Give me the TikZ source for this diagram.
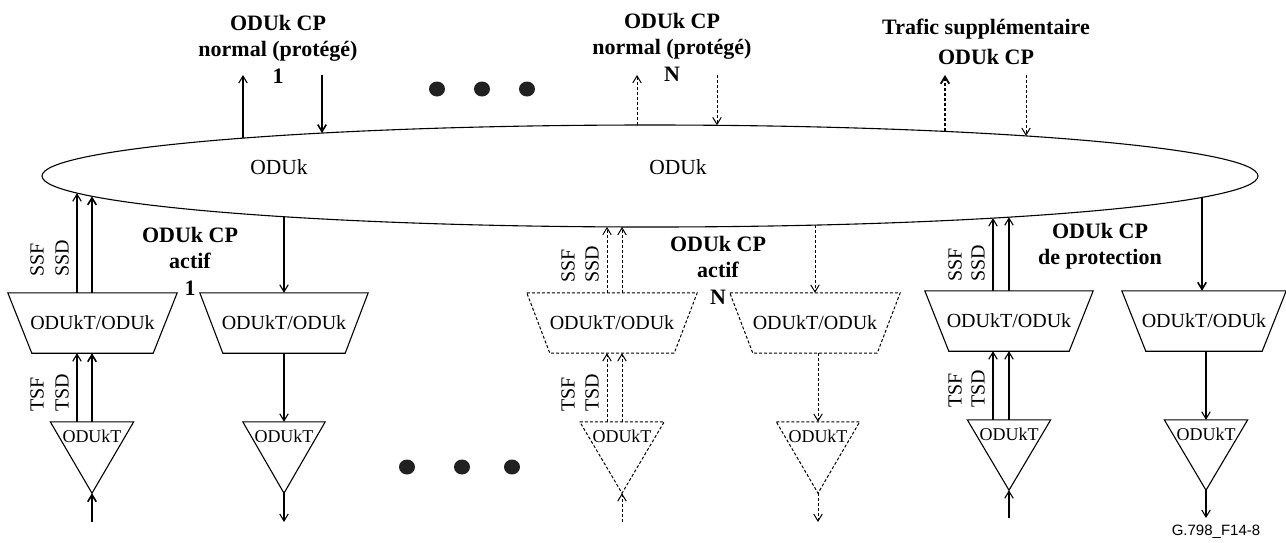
\documentclass[tikz,border=0pt]{standalone}
\usepackage{fontspec}
\setmainfont{Liberation Serif}
\newfontfamily\sansf{Liberation Sans}
\usetikzlibrary{arrows.meta,shapes.geometric,calc}
\newcommand\trapez[3][]{\draw[ln,#1] (#2.north west) -- (#2.north east) -- ([xshift=-#3pt]#2.south east) -- ([xshift=#3pt]#2.south west) -- cycle;}
\newcommand\trian[2][]{\draw[ln,#1] (#2.north west) -- (#2.north east) -- (#2.south) -- cycle;}
\begin{document}
\begin{tikzpicture}[x=1pt,y=-1pt,
  ln/.style={line width=1.1pt},
  arr/.style={ln,-{Straight Barb[length=7pt,width=8.5pt]}},
  thk/.style={line width=1.6pt},
  dsh/.style={line width=1pt,dash pattern=on 3pt off 2pt},
  lbl/.style={font=\fontsize{22}{26.5}\selectfont\bfseries, align=center, inner sep=0pt},
  box/.style={minimum width=168pt, minimum height=60pt, inner sep=0pt, font=\fontsize{20}{24}\selectfont},
  tri/.style={minimum width=83pt, minimum height=71pt, inner sep=0pt},
  tritext/.style={anchor=north, inner sep=0pt, yshift=-8pt, font=\fontsize{18}{20}\selectfont},
  side/.style={rotate=90, anchor=west, inner sep=0pt, font=\fontsize{20}{24}\selectfont},
  dot/.style={ellipse, fill=black!87, minimum width=16pt, minimum height=15pt, inner sep=0pt},
  etext/.style={font=\fontsize{21.5}{24}\selectfont},
]
\useasboundingbox (0,0) rectangle (1286,542);

% ellipse
\node[draw, ellipse, ln, minimum width=1216pt, minimum height=102pt, inner sep=0pt] (E) at (650,176) {};
\node[etext] (E1) at (279,167) {ODUk};
\node[etext] (E2) at (678,167) {ODUk};

% points on the ellipse border
\coordinate (ea) at (243,138.1);
\coordinate (eb) at (322,133.1);
\coordinate (ec) at (637,125.2);
\coordinate (ed) at (717,125.3);
\coordinate (ee) at (945,131.4);
\coordinate (ef) at (1026,135.9);
\coordinate (g1a) at (77,193.2);
\coordinate (g1b) at (92,196.3);
\coordinate (g2) at (284,216.7);
\coordinate (g3a) at (607,226.9);
\coordinate (g3b) at (622,227);
\coordinate (g4) at (815,225.1);
\coordinate (g5a) at (993,218.1);
\coordinate (g5b) at (1009,217.2);
\coordinate (g6) at (1202,197.4);

% top connectors
\coordinate (ta) at (243,75);
\coordinate (tb) at (322,75);
\coordinate (tc) at (637,75);
\coordinate (td) at (717,75);
\coordinate (te) at (945,75);
\coordinate (tf) at (1026,75);
\draw[arr] (ea) -- (ta);
\draw[arr,thk] (tb) -- (eb);
\draw[arr,dsh] (ec) -- (tc);
\draw[arr,dsh] (td) -- (ed);
\draw[arr,dsh,line width=1.8pt] (ee) -- (te);
\draw[arr,dsh] (tf) -- (ef);

% top labels
\node[lbl] (L1) at (278,49) {ODUk CP\\normal (protégé)\\1};
\node[lbl] (LN) at (672,47) {ODUk CP\\normal (protégé)\\N};
\node[lbl] (LT) at (986,42) {Trafic supplémentaire\\[3pt]ODUk CP};

% dots
\node[dot] (d1) at (437,89) {};
\node[dot] (d2) at (482,89) {};
\node[dot] (d3) at (527,89) {};
\node[dot] (d4) at (407,467) {};
\node[dot] (d5) at (462,467) {};
\node[dot] (d6) at (512,467) {};

% ---------- group 1 ----------
\node[box, minimum width=169pt] (T1) at (92.5,323) {ODUkT/ODUk};
\trapez{T1}{24}
\node[tri] (R1) at (92,457.5) {};
\trian{R1}
\node[tritext] (R1t) at (R1.north) {ODUkT};
\draw[arr] ([xshift=-15.5pt]T1.north) -- ([xshift=-15.5pt]T1.north |- g1a);
\draw[arr,thk] ([xshift=-0.5pt]T1.north) -- ([xshift=-0.5pt]T1.north |- g1b);
\draw[arr] ([xshift=-15pt]R1.north) -- ([xshift=-15pt]R1.north |- T1.south);
\draw[arr,thk] (R1.north) -- (R1.north |- T1.south);
\coordinate (in1) at (92,522);
\draw[arr,thk] (in1) -- (R1.south);
\node[side] (s1a) at (37,277) {SSF};
\node[side] (s1b) at (62,277) {SSD};
\node[side] (s1c) at (37,412) {TSF};
\node[side] (s1d) at (62,412) {TSD};

\node[box] (T2) at (284,323) {ODUkT/ODUk};
\trapez{T2}{23}
\node[tri, minimum width=82pt] (R2) at (284,457.5) {};
\trian{R2}
\node[tritext] (R2t) at (R2.north) {ODUkT};
\draw[arr] (g2) -- (T2.north);
\draw[arr] (T2.south) -- (R2.north);
\coordinate (out2) at (284,522);
\draw[arr] (R2.south) -- (out2);
\node[lbl] (LA1) at (190,261) {ODUk CP\\actif\\1};

% ---------- group N ----------
\node[box, minimum width=170pt] (T3) at (612,323) {ODUkT/ODUk};
\trapez[dsh]{T3}{23}
\node[tri, minimum width=84pt] (R3) at (622,457.5) {};
\trian[dsh]{R3}
\node[tritext] (R3t) at (R3.north) {ODUkT};
\draw[arr,dsh] ([xshift=-15pt]R3.north |- T3.north) -- ([xshift=-15pt]R3.north |- g3a);
\draw[arr,dsh] (R3.north |- T3.north) -- (R3.north |- g3b);
\draw[arr,dsh] ([xshift=-15pt]R3.north) -- ([xshift=-15pt]R3.north |- T3.south);
\draw[arr,dsh] (R3.north) -- (R3.north |- T3.south);
\coordinate (in3) at (622,522);
\draw[arr,dsh] (in3) -- (R3.south);
\node[side] (s3a) at (568,283) {SSF};
\node[side] (s3b) at (592,283) {SSD};
\node[side] (s3c) at (568,412) {TSF};
\node[side] (s3d) at (592,412) {TSD};

\node[box, minimum width=170pt] (T4) at (815,323) {ODUkT/ODUk};
\trapez[dsh]{T4}{23}
\node[tri] (R4) at (818,457.5) {};
\trian[dsh]{R4}
\node[tritext] (R4t) at (R4.north) {ODUkT};
\draw[arr,dsh] (g4) -- (g4 |- T4.north);
\draw[arr,dsh] (R4.north |- T4.south) -- (R4.north);
\coordinate (out4) at (818,522);
\draw[arr,dsh] (R4.south) -- (out4);
\node[lbl] (LAN) at (718,270) {ODUk CP\\actif\\N};

% ---------- protection group ----------
\node[box] (T5) at (1009,321) {ODUkT/ODUk};
\trapez{T5}{24}
\node[tri, minimum height=70pt] (R5) at (1009,455) {};
\trian{R5}
\node[tritext] (R5t) at (R5.north) {ODUkT};
\draw[arr] ([xshift=-16pt]T5.north) -- ([xshift=-16pt]T5.north |- g5a);
\draw[arr] (T5.north) -- (T5.north |- g5b);
\draw[arr] ([xshift=-16pt]R5.north) -- ([xshift=-16pt]R5.north |- T5.south);
\draw[arr] (R5.north) -- (R5.north |- T5.south);
\coordinate (in5) at (1009,518);
\draw[arr] (in5) -- (R5.south);
\node[side] (s5a) at (955,282) {SSF};
\node[side] (s5b) at (978,282) {SSD};
\node[side] (s5c) at (955,408) {TSF};
\node[side] (s5d) at (978,408) {TSD};

\node[box, minimum width=164pt] (T6) at (1204,321) {ODUkT/ODUk};
\trapez{T6}{24}
\node[tri, minimum height=70pt] (R6) at (1206,455) {};
\trian{R6}
\node[tritext] (R6t) at (R6.north) {ODUkT};
\draw[arr,thk] (g6) -- (g6 |- T6.north);
\draw[arr] (R6.north |- T6.south) -- (R6.north);
\coordinate (out6) at (1206,518);
\draw[arr] (R6.south) -- (out6);
\node[lbl] (LP) at (1100,246) {ODUk CP\\de protection};

\node[font=\sansf\fontsize{15}{18}\selectfont, inner sep=0pt] (ref) at (1216,532) {G.798\_F14-8};
\end{tikzpicture}
\end{document}
